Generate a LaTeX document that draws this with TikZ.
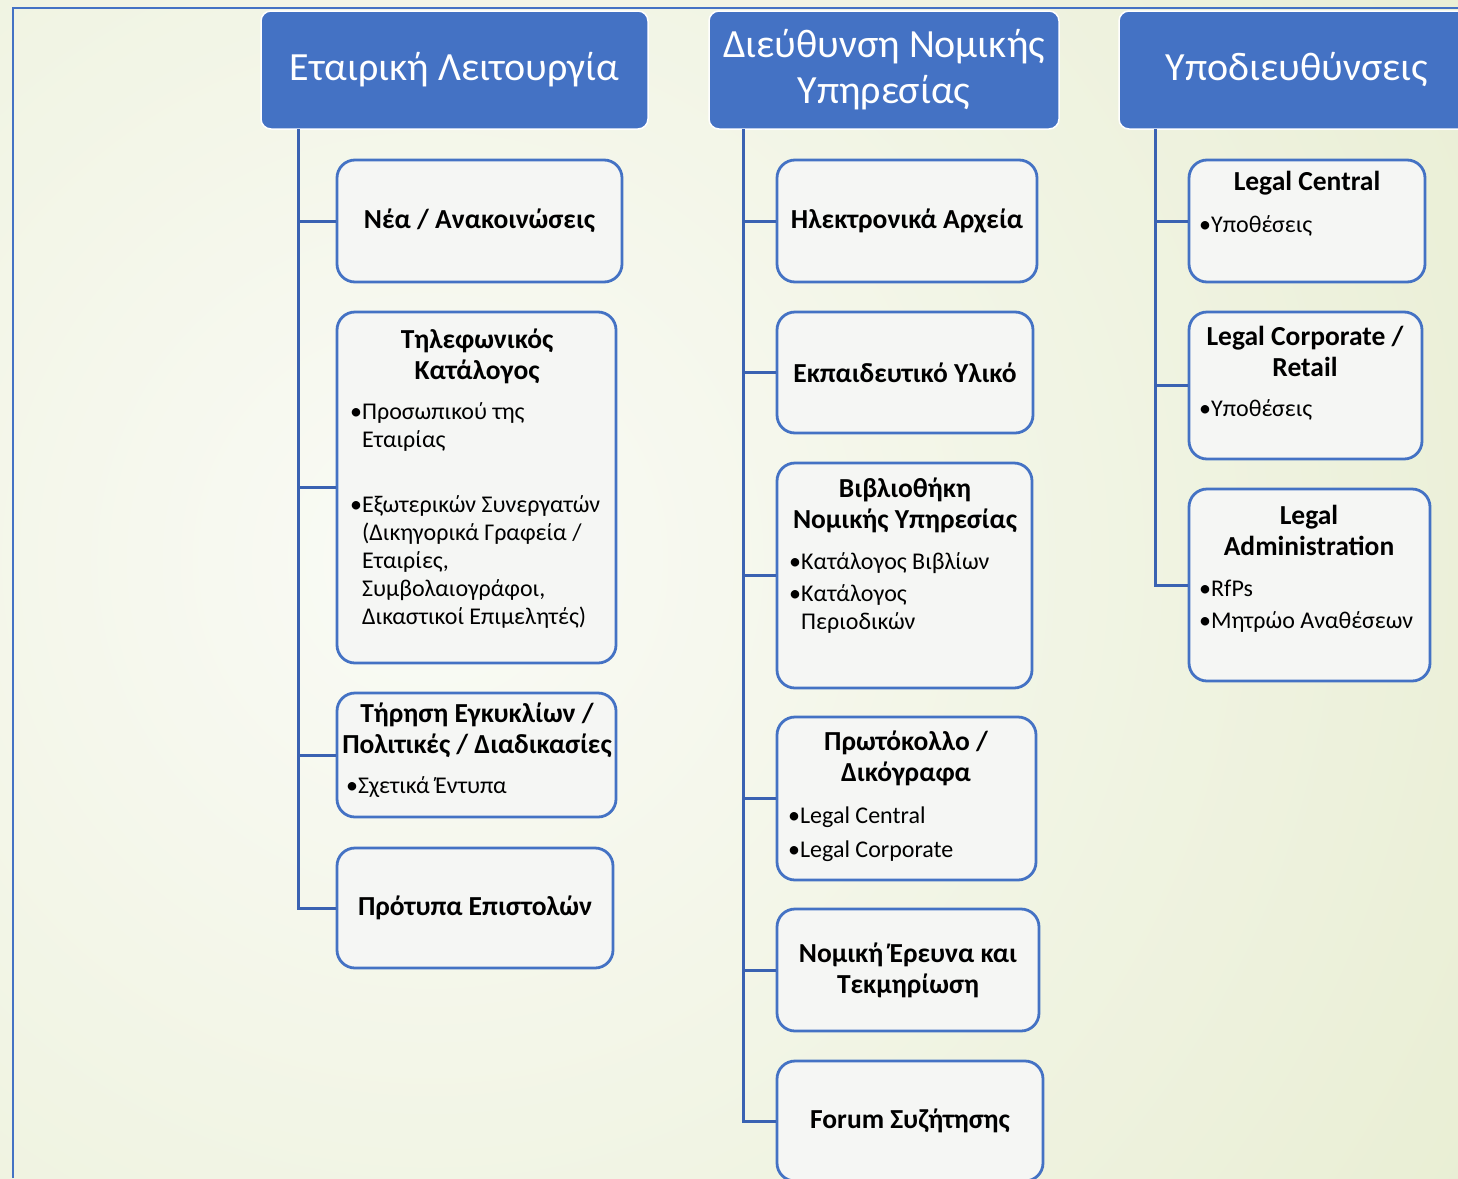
\documentclass[tikz,border=0pt]{standalone}
\usepackage{fontspec}
\setmainfont{Carlito}

\definecolor{hblue}{RGB}{68,114,196}
\definecolor{trunkblue}{RGB}{58,98,178}
\definecolor{boxfill}{RGB}{245,246,244}
\definecolor{bgin}{RGB}{250,251,246}
\definecolor{bgout}{RGB}{222,230,190}

\newcommand\headfont{\fontsize{40}{46}\selectfont}
\newcommand\boxfont{\fontsize{27.5}{31}\selectfont\bfseries}
\newcommand\itemfont{\fontsize{24}{28}\selectfont}

\tikzset{
  head/.style={draw=white, line width=1.5, fill=hblue, rounded corners=10,
    text=white, font=\headfont, align=center, inner sep=0},
  box/.style={draw=hblue, line width=2.8, fill=boxfill, rounded corners=18,
    font=\boxfont, align=center, inner sep=0},
  ttl/.style={font=\boxfont, align=center, inner sep=0},
  itm/.style={font=\itemfont, align=left, inner sep=0, anchor=west},
  conn/.style={draw=trunkblue, line width=3},
}

\begin{document}
\begin{tikzpicture}[x=1pt, y=-1pt]

  \useasboundingbox (0,0) rectangle (1458,1178);
  \clip (0,0) rectangle (1458,1178);

  % background and frame
  \shade[inner color=bgin, outer color=bgout] (430,560) circle (2000);
  \draw[hblue, line width=1.5] (13,1178) -- (13,8) -- (1458,8);

  % headers
  \node[head, minimum width=387, minimum height=118] (corp) at (454.5,70) {Εταιρική Λειτουργία};
  \node[head, minimum width=350, minimum height=118] (legal) at (884,70) {Διεύθυνση Νομικής\\Υπηρεσίας};
  \node[head, minimum width=356, minimum height=118] (subdir) at (1297,70) {Υποδιευθύνσεις};

  \coordinate (corp-r) at (298,129);
  \coordinate (legal-r) at (743,129);
  \coordinate (subdir-r) at (1155,129);

  % first column
  \node[box, minimum width=285, minimum height=122] (news) at (479.5,221) {Νέα / Ανακοινώσεις};
  \node[box, minimum width=279, minimum height=351] (phone) at (476.5,487.5) {};
  \node[ttl] (phone-t) at (477,356.5) {Τηλεφωνικός\\Κατάλογος};
  \node[itm] (phone-b1) at (350,427) {•Προσωπικού της\\\phantom{•}Εταιρίας};
  \node[itm] (phone-b2) at (350,561.5) {•Εξωτερικών Συνεργατών\\\phantom{•}(Δικηγορικά Γραφεία /\\\phantom{•}Εταιρίες,\\\phantom{•}Συμβολαιογράφοι,\\\phantom{•}Δικαστικοί Επιμελητές)};
  \node[box, minimum width=279, minimum height=124] (circ) at (476.5,755) {};
  \node[ttl] (circ-t) at (477,730.5) {Τήρηση Εγκυκλίων /\\Πολιτικές / Διαδικασίες};
  \node[itm] (circ-b1) at (346,787) {•Σχετικά Έντυπα};
  \node[box, minimum width=276, minimum height=120] (tmpl) at (475,908) {Πρότυπα Επιστολών};

  % second column
  \node[box, minimum width=260, minimum height=122] (earch) at (907,221) {Ηλεκτρονικά Αρχεία};
  \node[box, minimum width=256, minimum height=121] (edu) at (905,372.5) {Εκπαιδευτικό Υλικό};
  \node[box, minimum width=255, minimum height=225] (lib) at (904.5,575.5) {};
  \node[ttl] (lib-t) at (905,505.5) {Βιβλιοθήκη\\Νομικής Υπηρεσίας};
  \node[itm] (lib-b1) at (789,563) {•Κατάλογος Βιβλίων};
  \node[itm] (lib-b2) at (789,609) {•Κατάλογος\\\phantom{•}Περιοδικών};
  \node[box, minimum width=259, minimum height=163] (proto) at (906.5,798.5) {};
  \node[ttl] (proto-t) at (906,758.5) {Πρωτόκολλο /\\Δικόγραφα};
  \node[itm] (proto-b1) at (788,817) {•Legal Central};
  \node[itm] (proto-b2) at (788,851) {•Legal Corporate};
  \node[box, minimum width=262, minimum height=122] (research) at (908,970) {Νομική Έρευνα και\\Τεκμηρίωση};
  \node[box, minimum width=266, minimum height=120] (forum) at (910,1121) {Forum Συζήτησης};

  % third column
  \node[box, minimum width=236, minimum height=122] (lcentral) at (1307,221) {};
  \node[ttl] (lcentral-t) at (1307,183) {Legal Central};
  \node[itm] (lcentral-b1) at (1199,226) {•Υποθέσεις};
  \node[box, minimum width=233, minimum height=147] (lcorp) at (1305.5,385.5) {};
  \node[ttl] (lcorp-t) at (1305,351.5) {Legal Corporate /\\Retail};
  \node[itm] (lcorp-b1) at (1199,410) {•Υποθέσεις};
  \node[box, minimum width=241, minimum height=192] (ladmin) at (1309.5,585) {};
  \node[ttl] (ladmin-t) at (1309,530) {Legal\\Administration};
  \node[itm] (ladmin-b1) at (1199,588) {•RfPs};
  \node[itm] (ladmin-b2) at (1199,622) {•Μητρώο Αναθέσεων};

  % connectors
  \draw[conn] (corp-r) |- (news.west);
  \draw[conn] (corp-r) |- (phone.west);
  \draw[conn] (corp-r) |- (circ.west);
  \draw[conn] (corp-r) |- (tmpl.west);

  \draw[conn] (legal-r) |- (earch.west);
  \draw[conn] (legal-r) |- (edu.west);
  \draw[conn] (legal-r) |- (lib.west);
  \draw[conn] (legal-r) |- (proto.west);
  \draw[conn] (legal-r) |- (research.west);
  \draw[conn] (legal-r) |- (forum.west);

  \draw[conn] (subdir-r) |- (lcentral.west);
  \draw[conn] (subdir-r) |- (lcorp.west);
  \draw[conn] (subdir-r) |- (ladmin.west);

\end{tikzpicture}
\end{document}
